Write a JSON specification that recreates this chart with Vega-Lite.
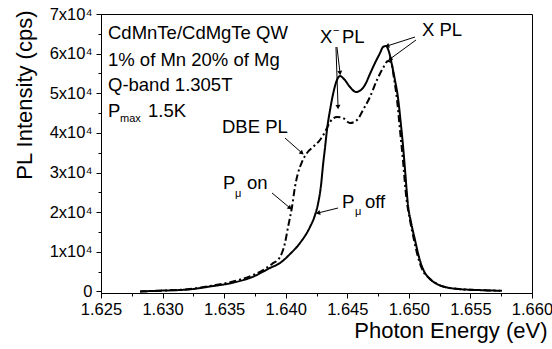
{
  "$schema": "https://vega.github.io/schema/vega-lite/v6.json",
  "width": 431,
  "height": 279,
  "autosize": {"type": "none"},
  "padding": {"left": 101, "top": 14, "right": 20, "bottom": 56},
  "background": "white",
  "config": {
    "view": {"stroke": "black", "strokeWidth": 1},
    "font": "Liberation Sans",
    "axis": {"grid": false, "domainColor": "black", "tickColor": "black", "labelColor": "black", "titleColor": "black", "titleFontWeight": "normal", "labelFont": "Liberation Sans", "titleFont": "Liberation Sans"}
  },
  "datasets": {
    "curves": [
      {"series": "off", "x": 1.62817, "y": 0},
      {"series": "off", "x": 1.62979, "y": 180},
      {"series": "off", "x": 1.63223, "y": 530},
      {"series": "off", "x": 1.63385, "y": 1240},
      {"series": "off", "x": 1.63572, "y": 2200},
      {"series": "off", "x": 1.63734, "y": 3710},
      {"series": "off", "x": 1.63872, "y": 5910},
      {"series": "off", "x": 1.63954, "y": 7170},
      {"series": "off", "x": 1.64035, "y": 9440},
      {"series": "off", "x": 1.64116, "y": 12220},
      {"series": "off", "x": 1.64197, "y": 16250},
      {"series": "off", "x": 1.64238, "y": 19280},
      {"series": "off", "x": 1.64262, "y": 22060},
      {"series": "off", "x": 1.64287, "y": 26850},
      {"series": "off", "x": 1.64303, "y": 31900},
      {"series": "off", "x": 1.64319, "y": 36190},
      {"series": "off", "x": 1.64335, "y": 40730},
      {"series": "off", "x": 1.6436, "y": 45780},
      {"series": "off", "x": 1.64392, "y": 50820},
      {"series": "off", "x": 1.64416, "y": 53350},
      {"series": "off", "x": 1.64441, "y": 54360},
      {"series": "off", "x": 1.64473, "y": 53600},
      {"series": "off", "x": 1.64522, "y": 51580},
      {"series": "off", "x": 1.64571, "y": 50320},
      {"series": "off", "x": 1.64611, "y": 50820},
      {"series": "off", "x": 1.64652, "y": 52590},
      {"series": "off", "x": 1.64684, "y": 54860},
      {"series": "off", "x": 1.64725, "y": 57640},
      {"series": "off", "x": 1.64766, "y": 60160},
      {"series": "off", "x": 1.6479, "y": 61670},
      {"series": "off", "x": 1.64814, "y": 61930},
      {"series": "off", "x": 1.64839, "y": 60410},
      {"series": "off", "x": 1.64863, "y": 57130},
      {"series": "off", "x": 1.64887, "y": 53350},
      {"series": "off", "x": 1.64912, "y": 48800},
      {"series": "off", "x": 1.64936, "y": 41990},
      {"series": "off", "x": 1.64952, "y": 36950},
      {"series": "off", "x": 1.64969, "y": 30640},
      {"series": "off", "x": 1.64993, "y": 21800},
      {"series": "off", "x": 1.65017, "y": 17520},
      {"series": "off", "x": 1.6505, "y": 12970},
      {"series": "off", "x": 1.65082, "y": 8680},
      {"series": "off", "x": 1.65115, "y": 5660},
      {"series": "off", "x": 1.65172, "y": 3130},
      {"series": "off", "x": 1.65229, "y": 1870},
      {"series": "off", "x": 1.65294, "y": 1110},
      {"series": "off", "x": 1.65358, "y": 740},
      {"series": "off", "x": 1.65456, "y": 480},
      {"series": "off", "x": 1.65553, "y": 360},
      {"series": "off", "x": 1.65659, "y": 230},
      {"series": "off", "x": 1.65756, "y": 180},
      {"series": "on", "x": 1.62817, "y": 0},
      {"series": "on", "x": 1.62979, "y": 180},
      {"series": "on", "x": 1.63223, "y": 610},
      {"series": "on", "x": 1.63385, "y": 1370},
      {"series": "on", "x": 1.63572, "y": 2500},
      {"series": "on", "x": 1.63734, "y": 4140},
      {"series": "on", "x": 1.63816, "y": 5400},
      {"series": "on", "x": 1.63889, "y": 6920},
      {"series": "on", "x": 1.63954, "y": 8680},
      {"series": "on", "x": 1.63994, "y": 12220},
      {"series": "on", "x": 1.64019, "y": 16250},
      {"series": "on", "x": 1.64051, "y": 21300},
      {"series": "on", "x": 1.64075, "y": 26350},
      {"series": "on", "x": 1.641, "y": 29880},
      {"series": "on", "x": 1.64132, "y": 32660},
      {"series": "on", "x": 1.64173, "y": 34930},
      {"series": "on", "x": 1.64222, "y": 36440},
      {"series": "on", "x": 1.64278, "y": 38210},
      {"series": "on", "x": 1.64319, "y": 40230},
      {"series": "on", "x": 1.6436, "y": 42750},
      {"series": "on", "x": 1.64416, "y": 44010},
      {"series": "on", "x": 1.64465, "y": 43760},
      {"series": "on", "x": 1.64522, "y": 42500},
      {"series": "on", "x": 1.64579, "y": 43250},
      {"series": "on", "x": 1.64628, "y": 45780},
      {"series": "on", "x": 1.64684, "y": 49060},
      {"series": "on", "x": 1.64741, "y": 53350},
      {"series": "on", "x": 1.6479, "y": 56370},
      {"series": "on", "x": 1.64831, "y": 58140},
      {"series": "on", "x": 1.64855, "y": 57890},
      {"series": "on", "x": 1.64879, "y": 53850},
      {"series": "on", "x": 1.64904, "y": 48300},
      {"series": "on", "x": 1.64928, "y": 40730},
      {"series": "on", "x": 1.64952, "y": 33160},
      {"series": "on", "x": 1.64977, "y": 24330},
      {"series": "on", "x": 1.65009, "y": 18020},
      {"series": "on", "x": 1.65042, "y": 12970},
      {"series": "on", "x": 1.65074, "y": 8680},
      {"series": "on", "x": 1.65107, "y": 5660},
      {"series": "on", "x": 1.65172, "y": 3130},
      {"series": "on", "x": 1.65229, "y": 1870},
      {"series": "on", "x": 1.65294, "y": 1110},
      {"series": "on", "x": 1.65358, "y": 740},
      {"series": "on", "x": 1.65456, "y": 480},
      {"series": "on", "x": 1.65553, "y": 360},
      {"series": "on", "x": 1.65659, "y": 230},
      {"series": "on", "x": 1.6574, "y": 180}
    ],
    "bigText": [
      {"label": "CdMnTe/CdMgTe QW", "x": 1.625568, "y": 65206},
      {"label": "1% of Mn 20% of Mg", "x": 1.625568, "y": 58393},
      {"label": "Q-band 1.305T", "x": 1.625568, "y": 52085},
      {"label": "P", "x": 1.625568, "y": 45524},
      {"label": "1.5K", "x": 1.628817, "y": 45524},
      {"label": "X", "x": 1.642785, "y": 64196},
      {"label": "PL", "x": 1.644572, "y": 64196},
      {"label": "X PL", "x": 1.651068, "y": 65963},
      {"label": "DBE PL", "x": 1.634826, "y": 41487},
      {"label": "P", "x": 1.634907, "y": 27356},
      {"label": "on", "x": 1.636857, "y": 27356},
      {"label": "P", "x": 1.644572, "y": 22562},
      {"label": "off", "x": 1.64644, "y": 22562}
    ],
    "smallText": [
      {"label": "max", "x": 1.626543, "y": 43505},
      {"label": "−", "x": 1.64384, "y": 65710},
      {"label": "μ", "x": 1.635882, "y": 24581},
      {"label": "μ", "x": 1.645628, "y": 20039}
    ],
    "arrows": [
      {"id": "A", "x": 1.64441, "y": 55113, "x2": 1.64416, "y2": 61673},
      {"id": "B", "x": 1.64425, "y": 46533, "x2": 1.64408, "y2": 61673},
      {"id": "C", "x": 1.64823, "y": 61925, "x2": 1.6505, "y2": 64196},
      {"id": "D", "x": 1.64847, "y": 58645, "x2": 1.65058, "y2": 63439},
      {"id": "E", "x": 1.64132, "y": 34926, "x2": 1.63994, "y2": 38711},
      {"id": "F", "x": 1.64035, "y": 21048, "x2": 1.63889, "y2": 24833},
      {"id": "G", "x": 1.64262, "y": 19786, "x2": 1.64425, "y2": 21048}
    ]
  },
  "encoding": {
    "x": {
      "field": "x",
      "type": "quantitative",
      "scale": {"domain": [1.625, 1.66], "nice": false, "zero": false},
      "axis": {
        "title": "Photon Energy (eV)",
        "values": [1.625, 1.6275, 1.63, 1.6325, 1.635, 1.6375, 1.64, 1.6425, 1.645, 1.6475, 1.65, 1.6525, 1.655, 1.6575, 1.66],
        "labelExpr": "round(datum.value*1000) % 5 === 0 ? format(datum.value, '.3f') : ''",
        "tickSize": {"condition": {"test": "round(datum.value*1000) % 5 === 0", "value": 5}, "value": 3},
        "labelFontSize": 16.5,
        "labelFlush": false,
        "labelOverlap": false,
        "labelBound": false,
        "labelPadding": 3,
        "titleFontSize": 22,
        "titleAlign": "right",
        "titleBaseline": "alphabetic",
        "titleX": 446,
        "titleY": 44
      }
    },
    "y": {
      "field": "y",
      "type": "quantitative",
      "scale": {"domain": [-400, 70000], "nice": false, "zero": false},
      "axis": {
        "title": "PL Intensity (cps)",
        "values": [0, 5000, 10000, 15000, 20000, 25000, 30000, 35000, 40000, 45000, 50000, 55000, 60000, 65000, 70000],
        "labelExpr": "datum.value % 10000 === 0 ? (datum.value === 0 ? '0' : (datum.value/10000) + 'x10⁴') : ''",
        "tickSize": {"condition": {"test": "datum.value % 10000 === 0", "value": 5}, "value": 3},
        "labelFontSize": 16.5,
        "labelOverlap": false,
        "labelPadding": 4,
        "titleFontSize": 22,
        "titleAngle": -90,
        "titleAlign": "right",
        "titleBaseline": "alphabetic",
        "titleX": -70,
        "titleY": -4
      }
    }
  },
  "layer": [
    {
      "data": {"name": "curves"},
      "mark": {"type": "line", "color": "black", "strokeWidth": 2, "interpolate": "monotone"},
      "encoding": {
        "detail": {"field": "series"},
        "strokeDash": {"field": "series", "type": "nominal", "scale": {"domain": ["off", "on"], "range": [[1, 0], [7, 3, 2, 3]]}, "legend": null}
      }
    },
    {
      "data": {"name": "arrows"},
      "mark": {"type": "rule", "color": "black", "strokeWidth": 1},
      "encoding": {"x2": {"field": "x2"}, "y2": {"field": "y2"}}
    },
    {"data": {"name": "arrows"}, "transform": [{"filter": "datum.id === 'A'"}], "mark": {"type": "point", "shape": "triangle-right", "angle": 83, "filled": true, "color": "black", "size": 25, "opacity": 1}, "encoding": {}},
    {"data": {"name": "arrows"}, "transform": [{"filter": "datum.id === 'B'"}], "mark": {"type": "point", "shape": "triangle-right", "angle": 88, "filled": true, "color": "black", "size": 25, "opacity": 1}, "encoding": {}},
    {"data": {"name": "arrows"}, "transform": [{"filter": "datum.id === 'C'"}], "mark": {"type": "point", "shape": "triangle-right", "angle": 162, "filled": true, "color": "black", "size": 25, "opacity": 1}, "encoding": {}},
    {"data": {"name": "arrows"}, "transform": [{"filter": "datum.id === 'D'"}], "mark": {"type": "point", "shape": "triangle-right", "angle": 144, "filled": true, "color": "black", "size": 25, "opacity": 1}, "encoding": {}},
    {"data": {"name": "arrows"}, "transform": [{"filter": "datum.id === 'E'"}], "mark": {"type": "point", "shape": "triangle-right", "angle": 41, "filled": true, "color": "black", "size": 25, "opacity": 1}, "encoding": {}},
    {"data": {"name": "arrows"}, "transform": [{"filter": "datum.id === 'F'"}], "mark": {"type": "point", "shape": "triangle-right", "angle": 40, "filled": true, "color": "black", "size": 25, "opacity": 1}, "encoding": {}},
    {"data": {"name": "arrows"}, "transform": [{"filter": "datum.id === 'G'"}], "mark": {"type": "point", "shape": "triangle-right", "angle": 166, "filled": true, "color": "black", "size": 25, "opacity": 1}, "encoding": {}},
    {
      "data": {"name": "bigText"},
      "mark": {"type": "text", "align": "left", "baseline": "middle", "fontSize": 18.5, "color": "black", "font": "Liberation Sans"},
      "encoding": {"text": {"field": "label"}}
    },
    {
      "data": {"name": "smallText"},
      "mark": {"type": "text", "align": "left", "baseline": "middle", "fontSize": 11, "color": "black", "font": "Liberation Sans"},
      "encoding": {"text": {"field": "label"}}
    }
  ]
}
